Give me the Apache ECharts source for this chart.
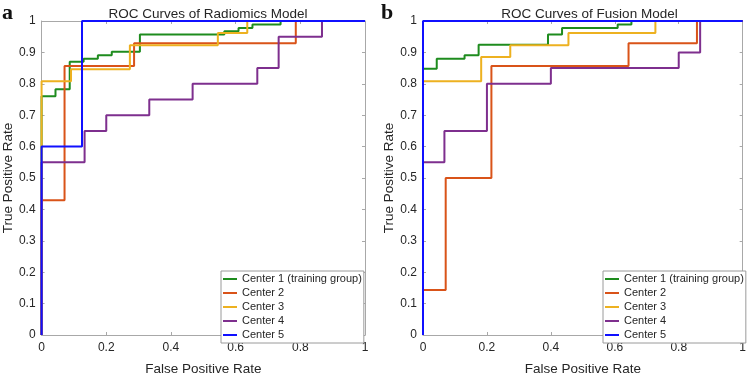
<!DOCTYPE html>
<html>
<head>
<meta charset="utf-8">
<script src="https://cdn.jsdelivr.net/npm/echarts@6/dist/echarts.min.js"></script>
<style>html,body{margin:0;padding:0;background:#fff}#c{width:749px;height:381px}</style>
</head>
<body>
<div id="c"></div>
<script>
// ---- Data ----
var seriesNames = ['Center 1 (training group)', 'Center 2', 'Center 3', 'Center 4', 'Center 5'];
var panelTitles = ['ROC Curves of Radiomics Model', 'ROC Curves of Fusion Model'];
var panelLetters = ['a', 'b'];
var xTickLabels = ['0', '0.2', '0.4', '0.6', '0.8', '1'];
var yTickLabels = ['0', '0.1', '0.2', '0.3', '0.4', '0.5', '0.6', '0.7', '0.8', '0.9', '1'];

// Radiomics model (panel a): ROC operating points (FPR, TPR)
var radC1Fpr = [0, 0, 0.043, 0.087, 0.130, 0.174, 0.217, 0.304, 0.565, 0.609, 0.652, 0.739, 1];
var radC1Tpr = [0, 0.760, 0.783, 0.870, 0.880, 0.891, 0.902, 0.957, 0.967, 0.978, 0.989, 1, 1];
var radC2Fpr = [0, 0, 0.071, 0.286, 0.786, 1];
var radC2Tpr = [0, 0.429, 0.857, 0.929, 1, 1];
var radC3Fpr = [0, 0, 0.091, 0.273, 0.545, 0.636, 1];
var radC3Tpr = [0, 0.808, 0.846, 0.923, 0.962, 1, 1];
var radC4Fpr = [0, 0, 0.133, 0.200, 0.333, 0.467, 0.667, 0.733, 0.867, 1];
var radC4Tpr = [0, 0.55, 0.65, 0.70, 0.75, 0.80, 0.85, 0.95, 1, 1];
var radC5Fpr = [0, 0, 0.125, 1];
var radC5Tpr = [0, 0.60, 1, 1];

// Fusion model (panel b)
var fusC1Fpr = [0, 0, 0.043, 0.130, 0.174, 0.391, 0.435, 0.609, 0.652, 1];
var fusC1Tpr = [0, 0.848, 0.880, 0.891, 0.924, 0.957, 0.978, 0.989, 1, 1];
var fusC2Fpr = [0, 0, 0.071, 0.214, 0.643, 0.857, 1];
var fusC2Tpr = [0, 0.143, 0.500, 0.857, 0.929, 1, 1];
var fusC3Fpr = [0, 0, 0.182, 0.273, 0.455, 0.727, 1];
var fusC3Tpr = [0, 0.808, 0.885, 0.923, 0.962, 1, 1];
var fusC4Fpr = [0, 0, 0.067, 0.200, 0.400, 0.800, 0.867, 1];
var fusC4Tpr = [0, 0.55, 0.65, 0.80, 0.85, 0.90, 1, 1];
var fusC5Fpr = [0, 0, 1];
var fusC5Tpr = [0, 1, 1];

var panels = [
  [[radC1Fpr, radC1Tpr], [radC2Fpr, radC2Tpr], [radC3Fpr, radC3Tpr], [radC4Fpr, radC4Tpr], [radC5Fpr, radC5Tpr]],
  [[fusC1Fpr, fusC1Tpr], [fusC2Fpr, fusC2Tpr], [fusC3Fpr, fusC3Tpr], [fusC4Fpr, fusC4Tpr], [fusC5Fpr, fusC5Tpr]]
];

// ---- Styling ----
var colors = ['#1e8c1e', '#d95319', '#edb120', '#7e2f8e', '#1010ff'];
var FONT = 'Liberation Sans, Arial, sans-serif';
var axisGray = '#a8a8a8';
var textCol = '#262626';

var grids = [
  { left: 41, top: 21, width: 324, height: 324 },
  { left: 423, top: 21, width: 323, height: 324 }
];

function zip(a, b) { return a.map(function (v, i) { return [v, b[i]]; }); }

var xAxes = [], yAxes = [], series = [], titles = [], legends = [], graphics = [];
grids.forEach(function (g, gi) {
  var xl = xTickLabels, yl = yTickLabels;
  xAxes.push({
    type: 'value', gridIndex: gi, min: 0, max: 1, interval: 0.2, position: 'bottom',
    name: 'False Positive Rate', nameLocation: 'middle', nameGap: 27,
    nameTextStyle: { fontFamily: FONT, fontSize: 13.5, color: textCol },
    axisLine: { show: true, onZero: false, lineStyle: { color: axisGray, width: 1 } },
    axisTick: { show: true, inside: true, length: 3, lineStyle: { color: axisGray } },
    axisLabel: { margin: 7, fontFamily: FONT, fontSize: 12, color: textCol,
      formatter: function (v) { return xl[Math.round(v / 0.2)]; } },
    splitLine: { show: false }
  });
  xAxes.push({
    type: 'value', gridIndex: gi, min: 0, max: 1, interval: 0.2, position: 'top',
    axisLine: { show: true, onZero: false, lineStyle: { color: axisGray, width: 1 } },
    axisTick: { show: true, inside: true, length: 3, lineStyle: { color: axisGray } },
    axisLabel: { show: false }, splitLine: { show: false }
  });
  yAxes.push({
    type: 'value', gridIndex: gi, min: 0, max: 1, interval: 0.1, position: 'left',
    name: 'True Positive Rate', nameLocation: 'middle', nameGap: 25,
    nameTextStyle: { fontFamily: FONT, fontSize: 13.5, color: textCol },
    axisLine: { show: true, onZero: false, lineStyle: { color: axisGray, width: 1 } },
    axisTick: { show: true, inside: true, length: 3, lineStyle: { color: axisGray } },
    axisLabel: { margin: 6, fontFamily: FONT, fontSize: 12, color: textCol,
      formatter: function (v) { return yl[Math.round(v / 0.1)]; } },
    splitLine: { show: false }
  });
  yAxes.push({
    type: 'value', gridIndex: gi, min: 0, max: 1, interval: 0.1, position: 'right',
    axisLine: { show: true, onZero: false, lineStyle: { color: axisGray, width: 1 } },
    axisTick: { show: true, inside: true, length: 3, lineStyle: { color: axisGray } },
    axisLabel: { show: false }, splitLine: { show: false }
  });
  panels[gi].forEach(function (d, si) {
    series.push({
      type: 'line', name: seriesNames[si], xAxisIndex: gi * 2, yAxisIndex: gi * 2,
      data: zip(d[0], d[1]), step: 'end', symbol: 'none', clip: false,
      lineStyle: { color: colors[si], width: 2 }, itemStyle: { color: colors[si] },
      emphasis: { disabled: true }, animation: false, z: 2 + si
    });
  });
  titles.push({
    text: panelTitles[gi], left: g.left + g.width / 2, top: 2, textAlign: 'center',
    textStyle: { fontFamily: FONT, fontSize: 13.5, fontWeight: 'normal', color: textCol }
  });
  legends.push({
    data: seriesNames.map(function (n) { return { name: n, icon: 'rect' }; }),
    orient: 'vertical', left: gi === 0 ? 221 : 603, top: 271,
    itemWidth: 14, itemHeight: 2, itemGap: 0, padding: [1, 2, 1, 2],
    backgroundColor: '#fff', borderColor: '#9a9a9a', borderWidth: 1, borderRadius: 0,
    selectedMode: false,
    textStyle: { fontFamily: FONT, fontSize: 11, color: textCol, lineHeight: 14, height: 14 }
  });
  graphics.push({
    type: 'text', left: gi === 0 ? 2 : 381, top: 2,
    style: { text: panelLetters[gi], font: 'bold 22px "Liberation Serif", "Times New Roman", serif', fill: '#111' }
  });
});

var chart = echarts.init(document.getElementById('c'), null, { renderer: 'canvas' });
chart.setOption({
  animation: false,
  backgroundColor: '#fff',
  color: colors,
  title: titles,
  legend: legends,
  grid: grids,
  xAxis: xAxes,
  yAxis: yAxes,
  series: series,
  graphic: graphics
});
</script>
</body>
</html>
